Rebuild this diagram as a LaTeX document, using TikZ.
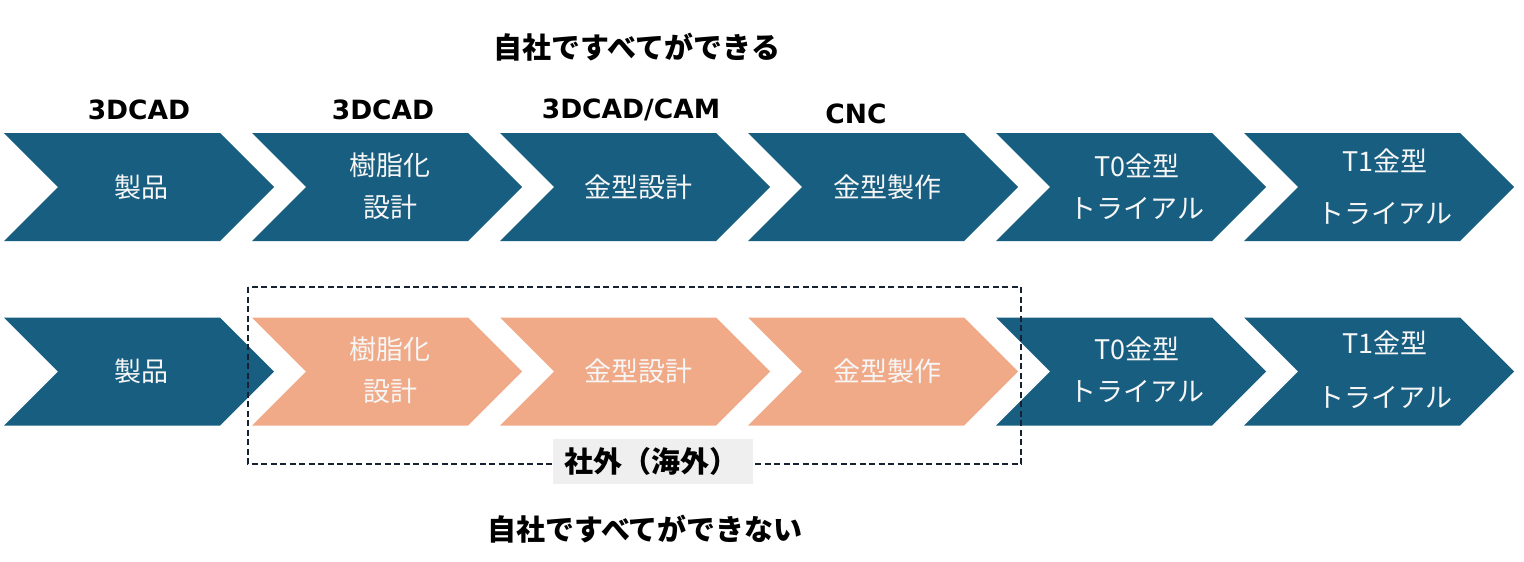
\documentclass[tikz,border=0pt]{standalone}
\usepackage{fontspec}
\setmainfont{Noto Sans CJK JP}
\newfontfamily\lat{DejaVu Sans}
\definecolor{chevblue}{RGB}{24,94,128}
\definecolor{chevorange}{RGB}{240,170,135}
\definecolor{boxline}{RGB}{22,34,50}
\definecolor{labelgray}{RGB}{239,239,239}
\definecolor{softwhite}{RGB}{246,246,246}
\tikzset{
  chevtext/.style={text=softwhite, font=\fontsize{27}{42}\selectfont, align=center, inner sep=0pt},
  lab/.style={font=\lat\bfseries\fontsize{26.5}{30}\selectfont, inner sep=0pt},
  head/.style={font=\bfseries\fontsize{29}{34}\selectfont, inner sep=0pt},
  dashbox/.style={draw=boxline, line width=2.5pt, dash pattern=on 6pt off 3.5pt},
  graybox/.style={fill=labelgray, minimum width=200pt, minimum height=45pt, inner sep=0pt},
}
\newcommand\mychev[3]{%
  \fill[#3] (#1,#2) -- ++(216,0) -- ++(54,54) -- ++(-54,54) -- ++(-216,0) -- ++(54,-54) -- cycle;}
\begin{document}
\begin{tikzpicture}[x=1pt,y=-1pt]
\useasboundingbox[fill=white] (0,0) rectangle (1524,562);
% row 1
\foreach \x in {4,252,500,748,996,1244} {\mychev{\x}{133}{chevblue}}
% row 2
\mychev{4}{317.5}{chevblue}
\foreach \x in {252,500,748} {\mychev{\x}{317.5}{chevorange}}
\foreach \x in {996,1244} {\mychev{\x}{317.5}{chevblue}}
% row 1 texts
\node[chevtext] (r1a) at (141,187) {製品};
\node[chevtext] (r1b) at (390,186) {樹脂化\\設計};
\node[chevtext] (r1c) at (638,187) {金型設計};
\node[chevtext] (r1d) at (887,187) {金型製作};
\node[chevtext] (r1e) at (1137,187) {T0金型\\トライアル};
\node[chevtext] (r1f) at (1385,187) {T1金型\\[10pt]トライアル};
% row 2 texts
\node[chevtext] (r2a) at (141,371) {製品};
\node[chevtext] (r2b) at (390,370) {樹脂化\\設計};
\node[chevtext] (r2c) at (638,371) {金型設計};
\node[chevtext] (r2d) at (887,371) {金型製作};
\node[chevtext] (r2e) at (1137,370) {T0金型\\トライアル};
\node[chevtext] (r2f) at (1385,370) {T1金型\\[12pt]トライアル};
% labels above
\node[lab] (l1) at (139,110) {3DCAD};
\node[lab] (l2) at (383,110) {3DCAD};
\node[lab] (l3) at (631,110) {3DCAD/CAM};
\node[lab] (l4) at (856,114) {CNC};
% headings
\node[head] (h1) at (637,47) {自社ですべてができる};
\node[head] (h2) at (645,529) {自社ですべてができない};
% outsourced box
\draw[dashbox] (248,287) rectangle (1021,464);
\node[graybox] (gai) at (653,461.5) {};
\node[head, anchor=west] (gait) at ([xshift=11pt]gai.west) {社外（海外）};
\end{tikzpicture}
\end{document}
